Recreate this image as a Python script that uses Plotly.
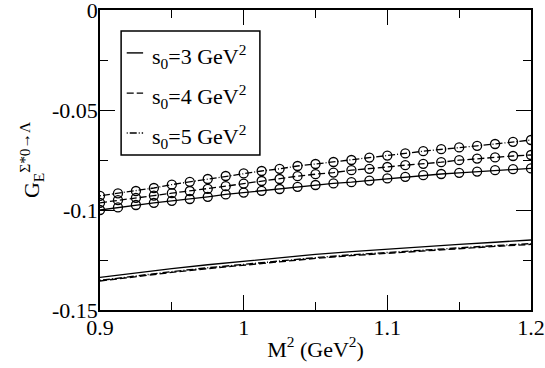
import plotly.graph_objects as go

# M^2 grid for the circled curves (GeV^2)
m2_circ = [0.9, 0.9125, 0.925, 0.9375, 0.95, 0.9625, 0.975, 0.9875, 1.0, 1.0125,
           1.025, 1.0375, 1.05, 1.0625, 1.075, 1.0875, 1.1, 1.1125, 1.125, 1.1375,
           1.15, 1.1625, 1.175, 1.1875, 1.2]

circ_s3 = [-0.1000, -0.0987, -0.0975, -0.0964, -0.0954, -0.0945, -0.0934, -0.0922, -0.0913,
           -0.0904, -0.0895, -0.0884, -0.0875, -0.0867, -0.0861, -0.0853, -0.0842, -0.0834,
           -0.0826, -0.0820, -0.0814, -0.0808, -0.0801, -0.0796, -0.0792]
circ_s4 = [-0.0964, -0.0951, -0.0939, -0.0928, -0.0916, -0.0905, -0.0894, -0.0881, -0.0868,
           -0.0855, -0.0845, -0.0831, -0.0821, -0.0813, -0.0801, -0.0794, -0.0785, -0.0776,
           -0.0769, -0.0761, -0.0751, -0.0743, -0.0737, -0.0730, -0.0725]
circ_s5 = [-0.0929, -0.0917, -0.0905, -0.0890, -0.0873, -0.0859, -0.0845, -0.0830, -0.0817,
           -0.0805, -0.0794, -0.0780, -0.0770, -0.0760, -0.0750, -0.0738, -0.0728, -0.0717,
           -0.0706, -0.0696, -0.0687, -0.0679, -0.0670, -0.0659, -0.0650]

# plain curves
m2 = [0.9, 0.925, 0.95, 0.975, 1.0, 1.025, 1.05, 1.075, 1.1, 1.125, 1.15, 1.175, 1.2]
ge_s3 = [-0.1337, -0.1314, -0.1293, -0.1274, -0.1256, -0.1239, -0.1222, -0.1208, -0.1195,
         -0.1183, -0.1172, -0.1161, -0.1150]
ge_s4 = [-0.1355, -0.1333, -0.1312, -0.1293, -0.1275, -0.1258, -0.1242, -0.1228, -0.1216,
         -0.1204, -0.1193, -0.1182, -0.1172]
ge_s5 = [-0.1352, -0.1329, -0.1308, -0.1289, -0.1271, -0.1254, -0.1238, -0.1224, -0.1212,
         -0.1200, -0.1189, -0.1178, -0.1168]

names = ["s<sub>0</sub>=3 GeV<sup>2</sup>", "s<sub>0</sub>=4 GeV<sup>2</sup>", "s<sub>0</sub>=5 GeV<sup>2</sup>"]
dashes = ["solid", "7px,3px", "1px,2px,7px,2px"]

y_ticks = [0, -0.05, -0.1, -0.15]
y_ticktext = ["0", "-0.05", "-0.1", "-0.15"]
x_ticks = [0.9, 1.0, 1.1, 1.2]
x_ticktext = ["0.9", "1", "1.1", "1.2"]

FONT = 'Liberation Serif'

fig = go.Figure()

for y, nm, d in zip([ge_s3, ge_s4, ge_s5], names, dashes):
    fig.add_trace(go.Scatter(x=m2, y=y, mode='lines', name=nm, showlegend=False,
                             line=dict(color='black', width=1.4, dash=d)))

for y, d in zip([circ_s3, circ_s4, circ_s5], dashes):
    fig.add_trace(go.Scatter(x=m2_circ, y=y, mode='lines+markers', showlegend=False,
                             line=dict(color='black', width=1.3, dash=d),
                             marker=dict(symbol='circle-open', size=9, color='black',
                                         line=dict(width=1.3, color='black'))))

# hand-drawn legend box (the xmgrace look: short samples, wide row spacing)
fig.add_shape(type='rect', xref='paper', yref='paper', x0=0.049, x1=0.371, y0=0.517, y1=0.93,
              line=dict(color='black', width=1.5), fillcolor='white', layer='above')
row_y = [0.857, 0.723, 0.59]
for ry, nm, d in zip(row_y, names, dashes):
    fig.add_shape(type='line', xref='paper', yref='paper', x0=0.062, x1=0.1, y0=ry, y1=ry,
                  line=dict(color='black', width=1.4, dash=d), layer='above')
    fig.add_annotation(xref='paper', yref='paper', x=0.116, y=ry - 0.012, text=nm,
                       showarrow=False, xanchor='left', yanchor='middle',
                       font=dict(family=FONT, size=22, color='black'))

axis_common = dict(showgrid=False, zeroline=False, showline=True, linecolor='black', linewidth=1.5,
                   ticks='inside', ticklen=15, tickwidth=1.4, tickcolor='black', mirror='ticks',
                   automargin=False, ticklabeloverflow='allow',
                   tickfont=dict(family=FONT, size=22, color='black'))

fig.update_layout(
    width=545, height=368,
    margin=dict(l=100, r=14, t=10, b=58),
    plot_bgcolor='white', paper_bgcolor='white',
    font=dict(family=FONT, size=22, color='black'),
    showlegend=False,
    xaxis=dict(range=[0.9, 1.2], tickvals=x_ticks, ticktext=x_ticktext, ticklabelstandoff=-3,
               minor=dict(dtick=0.05, ticklen=8, tickwidth=1.4, tickcolor='black', ticks='inside'),
               title=dict(text='M<sup>2</sup> (GeV<sup>2</sup>)', standoff=2,
                          font=dict(family=FONT, size=22)),
               **axis_common),
    yaxis=dict(range=[-0.15, 0], tickvals=y_ticks, ticktext=y_ticktext, ticklabelstandoff=-4,
               minor=dict(dtick=0.025, ticklen=8, tickwidth=1.4, tickcolor='black', ticks='inside'),
               title=dict(text='G<sub>E</sub><sup>Σ*0→Λ</sup>', standoff=6,
                          font=dict(family=FONT, size=22)),
               **axis_common),
)

fig.write_html("out.html", config={'displayModeBar': False},
               post_script="document.body.style.margin='0';document.body.style.padding='0';")
